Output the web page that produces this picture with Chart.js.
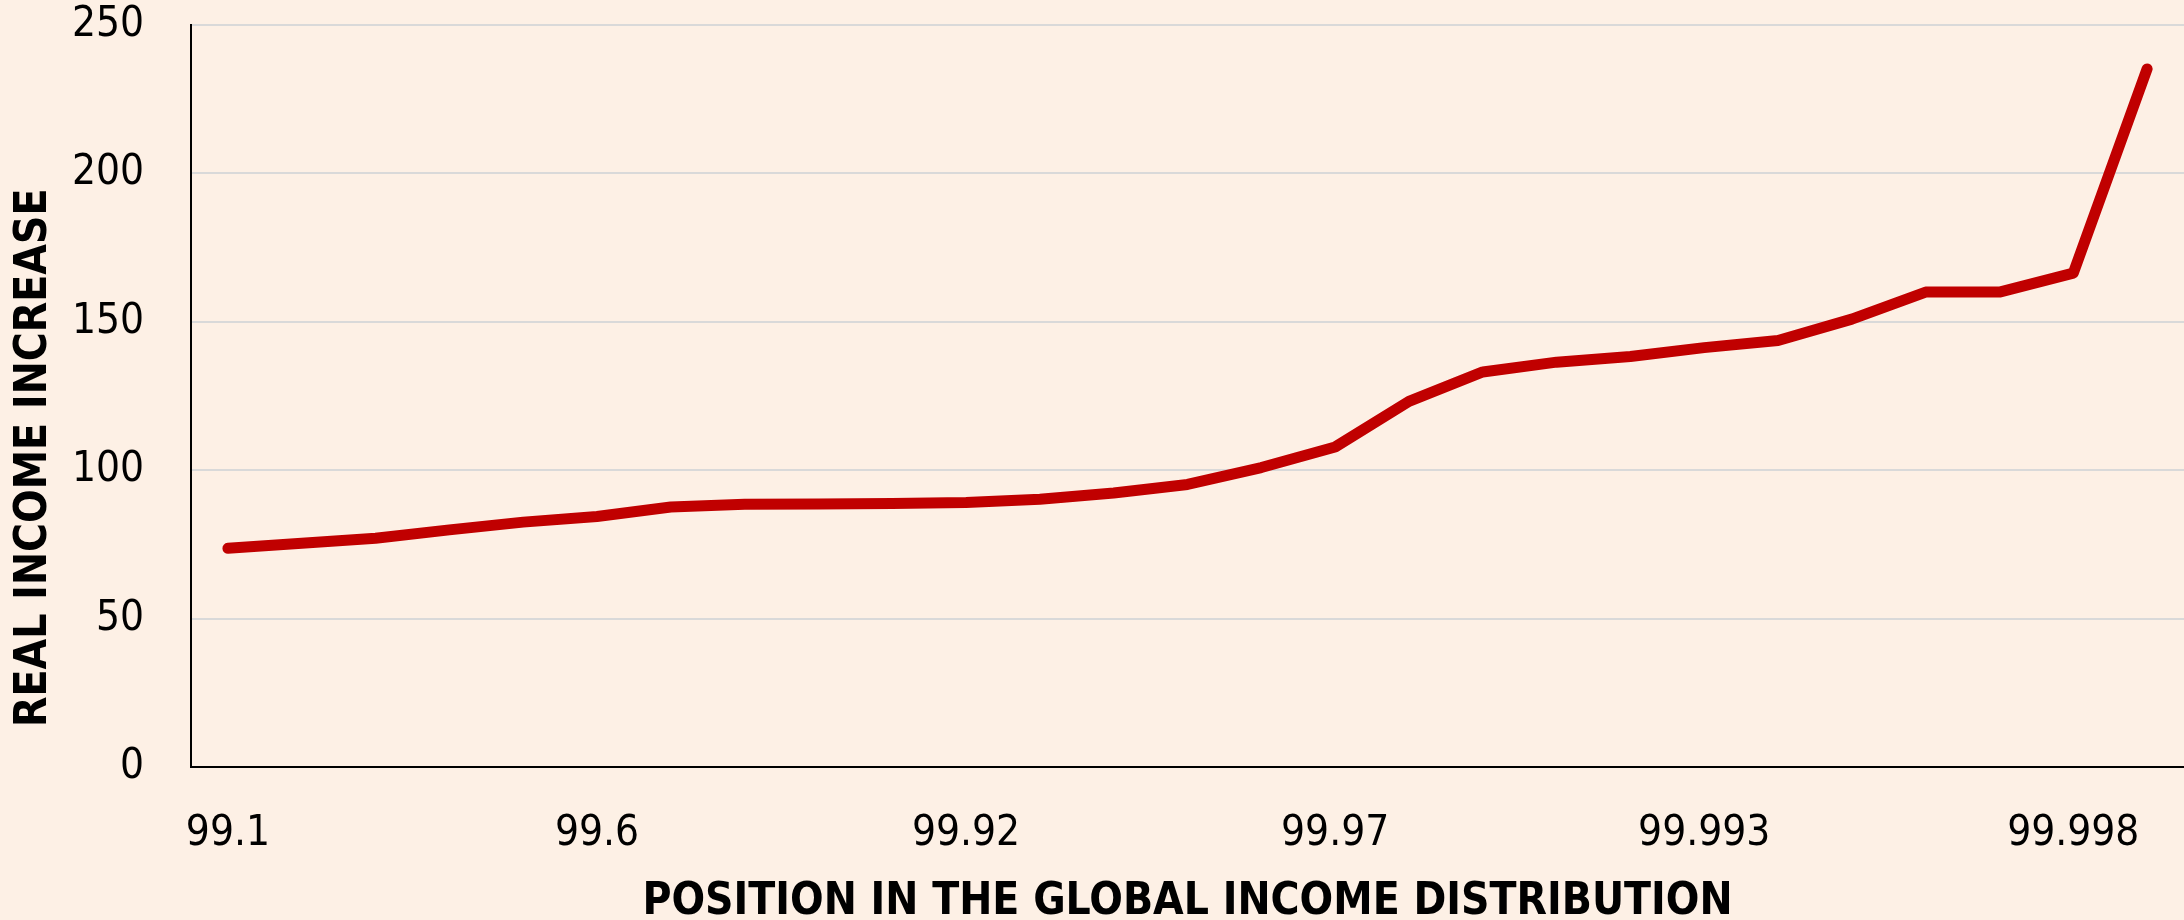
<!DOCTYPE html>
<html>
<head>
<meta charset="utf-8">
<script src="https://cdn.jsdelivr.net/npm/chart.js@4.4.0/dist/chart.umd.min.js"></script>
<style>
  html, body { margin: 0; padding: 0; background: #fdf0e5; }
  #wrap { width: 2184px; height: 920px; }
</style>
</head>
<body>
<div id="wrap"><canvas id="incomeChart" width="2184" height="920"></canvas></div>
<script>
// position in the global income distribution (percentile)
var positions = ['99.1', '99.2', '99.3', '99.4', '99.5', '99.6', '99.7', '99.8', '99.9', '99.91',
    '99.92', '99.93', '99.94', '99.95', '99.96', '99.97', '99.98', '99.99', '99.991', '99.992',
    '99.993', '99.994', '99.995', '99.996', '99.997', '99.998', '99.999'];

// real income increase (%)
var incomeIncrease = [73.7, 75.4, 77.1, 79.9, 82.5, 84.4, 87.6, 88.5, 88.6, 88.8,
    89.1, 90.2, 92.3, 95.2, 100.9, 107.8, 123.2, 133.1, 136.4, 138.3,
    141.3, 143.7, 150.9, 160.0, 160.0, 166.4, 235.2];

var yTicks = [0, 50, 100, 150, 200, 250];

var fontFamily = "'Liberation Sans Narrow', 'DejaVu Sans Condensed', 'Liberation Sans', sans-serif";

var ctx = document.getElementById('incomeChart').getContext('2d');
var incomeChart = new Chart(ctx, {
    type: 'line',
    data: {
        labels: positions,
        datasets: [{
            label: 'Real income increase',
            data: incomeIncrease,
            borderColor: '#c00000',
            borderWidth: 11,
            borderCapStyle: 'round',
            borderJoinStyle: 'round',
            pointRadius: 0,
            tension: 0,
            fill: false
        }]
    },
    options: {
        responsive: false,
        animation: false,
        layout: { padding: { top: 25, right: 0, bottom: 0, left: 0 } },
        plugins: {
            legend: { display: false },
            tooltip: { enabled: false }
        },
        scales: {
            x: {
                offset: true,
                grid: { color: 'rgba(0,0,0,0)', drawTicks: false },
                border: { display: true, color: '#000000', width: 2 },
                ticks: {
                    autoSkip: false,
                    maxRotation: 0,
                    padding: 42,
                    color: '#000000',
                    font: { family: fontFamily, size: 42 },
                    callback: function(value, index) {
                        return index % 5 === 0 ? positions[index] : '';
                    }
                },
                title: {
                    display: true,
                    text: 'POSITION IN THE GLOBAL INCOME DISTRIBUTION',
                    color: '#000000',
                    font: { family: fontFamily, size: 44, weight: 'bold' },
                    padding: { top: 22, bottom: -9 }
                },
                afterFit: function(scale) {
                    scale.height = 153;
                    scale.paddingLeft = 0;
                    scale.paddingRight = 0;
                }
            },
            y: {
                min: 0,
                max: 250,
                afterBuildTicks: function(scale) {
                    scale.ticks = yTicks.map(function(v) { return { value: v }; });
                },
                grid: { color: '#d9d9d9', lineWidth: 2, drawTicks: false },
                border: { display: true, color: '#000000', width: 2 },
                ticks: {
                    padding: 47,
                    color: '#000000',
                    font: { family: fontFamily, size: 42 }
                },
                title: {
                    display: true,
                    align: 'start',
                    text: 'REAL INCOME INCREASE',
                    color: '#000000',
                    font: { family: fontFamily, size: 44, weight: 'bold' },
                    padding: { top: 8, bottom: 0 }
                },
                afterFit: function(scale) {
                    scale.width = 191;
                    scale.paddingTop = 0;
                    scale.paddingBottom = 0;
                }
            }
        }
    }
});

// nudge the y title up a bit, it sits above the bottom of the axis in the original
var yScale = incomeChart.scales.y;
var origDrawTitle = yScale.drawTitle;
yScale.drawTitle = function() {
    var b = this.bottom;
    this.bottom = b - 40;
    origDrawTitle.apply(this, arguments);
    this.bottom = b;
};
incomeChart.draw();
</script>
</body>
</html>
